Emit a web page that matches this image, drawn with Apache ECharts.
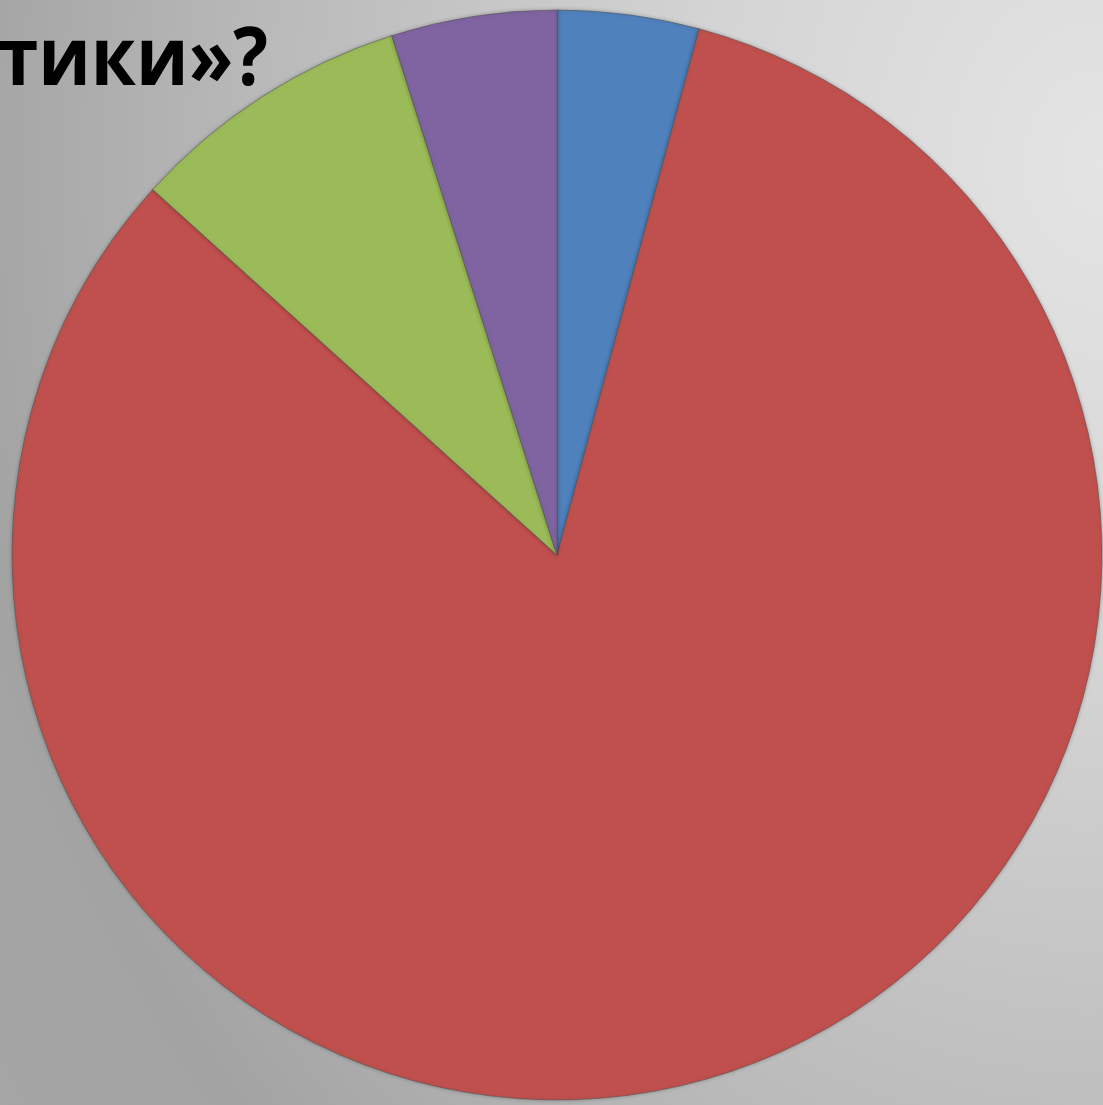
<!DOCTYPE html>
<html>
<head>
<meta charset="utf-8">
<script src="https://cdn.jsdelivr.net/npm/echarts@6/dist/echarts.min.js"></script>
<style>
html,body{margin:0;padding:0;width:1103px;height:1105px;overflow:hidden;}
body{background:radial-gradient(ellipse 130% 160% at 100% 15%, #e4e4e4 0%, #d4d4d4 28%, #bababa 58%, #a3a3a3 80%, #a6a6a6 100%);}
#chart{width:1103px;height:1105px;}
</style>
</head>
<body>
<div id="chart"></div>
<script>
const categories = ['1', '2', '3', '4'];
const values = [4.2, 82.5, 8.4, 4.9];
const colors = ['#4F81BD', '#C0504D', '#9BBB59', '#8064A2'];
const titleText = 'тики»?';

const chart = echarts.init(document.getElementById('chart'), null, {renderer: 'canvas'});
chart.setOption({
  backgroundColor: 'transparent',
  animation: false,
  graphic: [{
    type: 'text',
    x: -2,
    y: 21,
    scaleX: 0.9,
    style: {
      text: titleText,
      font: 'bold 81px "Open Sans", "Noto Sans", sans-serif',
      fill: '#000'
    },
    z: 10
  }],
  series: [{
    type: 'pie',
    center: [557, 555],
    radius: [0, 545],
    startAngle: 90,
    clockwise: true,
    label: {show: false},
    labelLine: {show: false},
    itemStyle: {
      borderColor: 'rgba(80,80,80,0.55)',
      borderWidth: 1,
      shadowBlur: 4,
      shadowColor: 'rgba(0,0,0,0.25)'
    },
    data: categories.map((c, i) => ({name: c, value: values[i], itemStyle: {color: colors[i]}}))
  }]
});
</script>
</body>
</html>
